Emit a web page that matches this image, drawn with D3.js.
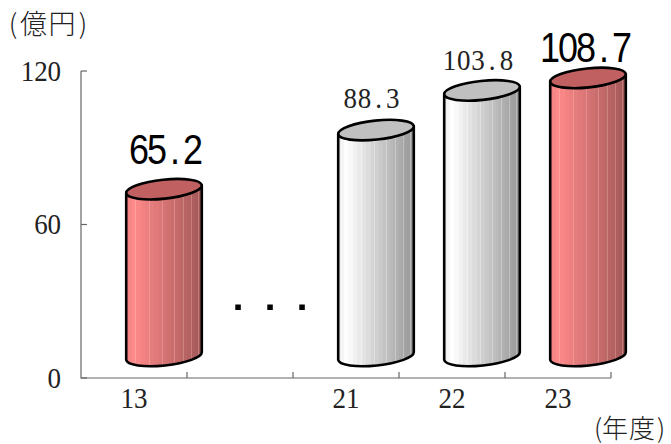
<!DOCTYPE html>
<html><head><meta charset="utf-8">
<script src="https://cdn.jsdelivr.net/npm/d3@7"></script>
<style>html,body{margin:0;background:#fff}svg{display:block}</style></head>
<body><svg id="c" width="671" height="444"></svg>
<script>
// Sales by fiscal year, drawn as tilted cylinders
const categories = ["13", "", "21", "22", "23"];
const barCategories = ["13", "21", "22", "23"];
const barValues = [65.2, 88.3, 103.8, 108.7];
const highlighted = ["13", "23"];
const valueTicks = [0, 60, 120];
const yUnit = "(億円)";
const xUnit = "(年度)";

const serif = "'Liberation Serif','Noto Sans CJK JP',serif";
const cjk = "'Noto Sans CJK JP',sans-serif";
const narrow = "'Liberation Sans Narrow','Liberation Sans',sans-serif";

const svg = d3.select("#c");
const x = d3.scaleBand().domain(categories).range([81, 611]);
const y = d3.scaleLinear().domain([0, 120]).range([378, 71]);

// Stepped shading: bands narrow toward the right, with faint light seams
const shadeSteps = [0, .04, .08, .13, .19, .25, .31, .37, .43, .49, .54, .59, .64, .68, .72, .76, .8, .84, .87, .9, .93, .96, .98];
function addShade(id, from, mid, to, seam) {
  const g = svg.append("defs").append("linearGradient").attr("id", id);
  const c1 = d3.interpolateRgb(from, mid), c2 = d3.interpolateRgb(mid, to);
  const shade = t => t < .1 ? c1(t / .1) : c2((t - .1) / .9);
  shadeSteps.forEach((s, i) => {
    const e = i + 1 < shadeSteps.length ? shadeSteps[i + 1] : 1;
    const col = shade((s + e) / 2);
    const isSeam = i % 3 === 2 && e < 1;
    const end = isSeam ? e - .012 : e;
    g.append("stop").attr("offset", s).attr("stop-color", col);
    g.append("stop").attr("offset", end).attr("stop-color", col);
    if (isSeam) {
      const light = d3.interpolateRgb(col, seam)(.28);
      g.append("stop").attr("offset", end).attr("stop-color", light);
      g.append("stop").attr("offset", e).attr("stop-color", light);
    }
  });
}
addShade("shadeGrey", "#e8e8e8", "#ffffff", "#969696", "#ffffff");
addShade("shadeRed", "#f08080", "#ff8a8a", "#a25858", "#ffd0d0");

// Axes
const axisCol = "#666";
const axisG = svg.append("g").attr("stroke", axisCol).attr("stroke-width", 1.2).attr("fill", "none");
axisG.append("path").attr("d", d3.line()([[x.range()[0], y(120)], [x.range()[0], y(0)], [x.range()[1], y(0)]]));
valueTicks.forEach(v => {
  axisG.append("line").attr("x1", x.range()[0]).attr("x2", x.range()[0] + 6).attr("y1", y(v)).attr("y2", y(v));
});
d3.range(1, categories.length + 1).forEach(i => {
  const px = x.range()[0] + i * x.bandwidth();
  axisG.append("line").attr("x1", px).attr("x2", px).attr("y1", y(0)).attr("y2", y(0) - 6);
});

// Places each glyph in its own fixed-width cell
function cellText(str, cx, baseline, cell, size, family, opts = {}) {
  const n = str.length;
  const xs = d3.range(n).map(i => cx + (i - (n - 1) / 2) * cell);
  const sy = opts.sy || 1;
  return svg.append("text")
    .attr("transform", `translate(0,${baseline}) scale(1,${sy})`)
    .attr("x", xs.join(" ")).attr("y", 0)
    .attr("text-anchor", "middle")
    .attr("font-family", family).attr("font-size", size)
    .attr("fill", opts.fill || "#222")
    .text(str);
}

valueTicks.forEach(v => {
  const s = String(v);
  cellText(s, 61 - s.length * 13.4 / 2, y(v) + 9.5, 13.4, 27, serif, { sy: 1.06 });
});
categories.filter(c => c).forEach(c => {
  cellText(c, x(c) + x.bandwidth() / 2, 408, 13.4, 27, serif, { sy: 1.06 });
});

// Cylinders sit behind the axis plane, shifted up and to the right
const shiftX = 30, shiftY = 22;
const rx = 38, ry = 9.5, tilt = -6;
const rad = tilt * Math.PI / 180;
const dx = rx * Math.cos(rad), dy = rx * Math.sin(rad);

// Value captions are nudged by hand around each cylinder top
const captionNudge = [[2, -25], [-4.5, -22.5], [-4, -20], [-2, -16]];

const bars = barCategories.map((c, i) => ({ c, v: barValues[i], hot: highlighted.includes(c), nudge: captionNudge[i] }));
bars.forEach(d => {
  const cx = x(d.c) + x.bandwidth() / 2 + shiftX;
  const top = y(d.v) - shiftY, base = y(0) - shiftY;
  const body = `M${cx - dx},${top - dy}L${cx - dx},${base - dy}` +
    `A${rx},${ry} ${tilt} 0 0 ${cx + dx},${base + dy}L${cx + dx},${top + dy}Z`;
  svg.append("path").attr("d", body)
    .attr("fill", `url(#${d.hot ? "shadeRed" : "shadeGrey"})`)
    .attr("stroke", "#000").attr("stroke-width", 2.6).attr("stroke-linejoin", "round");
  svg.append("ellipse")
    .attr("transform", `translate(${cx},${top}) rotate(${tilt})`)
    .attr("rx", rx).attr("ry", ry)
    .attr("fill", d.hot ? "#c06060" : "#c0c0c0")
    .attr("stroke", "#000").attr("stroke-width", 2.6);
  const label = d3.format(".1f")(d.v);
  if (d.hot) {
    cellText(label, cx + d.nudge[0], top + d.nudge[1], 18, 36, narrow, { sy: 1.18, fill: "#000" });
  } else {
    cellText(label, cx + d.nudge[0], top + d.nudge[1], 14.2, 27, serif, { sy: 1.06 });
  }
});

// Ellipsis marking the omitted years
const gapCx = x("") + x.bandwidth() / 2 + shiftX;
[-32, 0, 32].forEach(o => {
  svg.append("rect").attr("x", gapCx + o - 2.7).attr("y", 304.5).attr("width", 5.5).attr("height", 5.5).attr("fill", "#000");
});

// Unit captions, glyph by glyph
function unitText(str, xs, baseline, size) {
  svg.append("text").attr("x", xs.join(" ")).attr("y", baseline)
    .attr("text-anchor", "middle")
    .attr("font-family", cjk).attr("font-size", size).attr("font-weight", 300).attr("fill", "#222").text(str);
}
unitText(yUnit, [13, 33.5, 62, 83], 34, 27);
unitText(xUnit, [598, 615, 642, 661], 438, 26);
</script></body></html>
